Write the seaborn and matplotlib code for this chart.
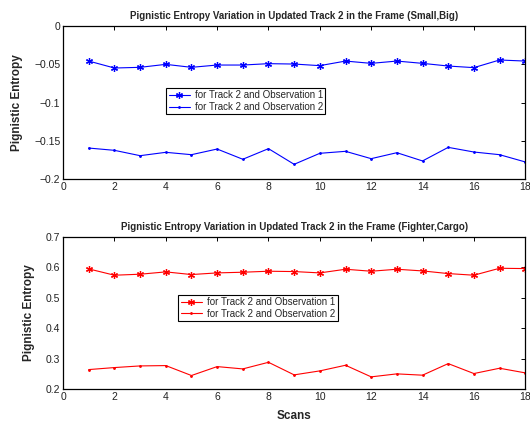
import matplotlib
matplotlib.use("Agg")
import matplotlib.pyplot as plt
import seaborn as sns
import pandas as pd

scans = list(range(1, 19))
small_big_obs1 = [-0.0457, -0.0548, -0.0539, -0.0500, -0.0539, -0.0509, -0.0509, -0.0491, -0.0496,
                  -0.0517, -0.0457, -0.0487, -0.0457, -0.0487, -0.0522, -0.0543, -0.0443, -0.0457]
small_big_obs2 = [-0.1596, -0.1626, -0.1696, -0.1652, -0.1683, -0.1609, -0.1743, -0.1604, -0.1809,
                  -0.1665, -0.1639, -0.1735, -0.1657, -0.1765, -0.1587, -0.1648, -0.1683, -0.1778]
fighter_cargo_obs1 = [0.5946, 0.5739, 0.5772, 0.5848, 0.5761, 0.5815, 0.5837, 0.5870, 0.5859,
                      0.5815, 0.5935, 0.5870, 0.5935, 0.5880, 0.5793, 0.5739, 0.5967, 0.5957]
fighter_cargo_obs2 = [0.2641, 0.2707, 0.2761, 0.2772, 0.2446, 0.2739, 0.2663, 0.2880, 0.2467,
                      0.2598, 0.2783, 0.2402, 0.2500, 0.2457, 0.2837, 0.2511, 0.2685, 0.2533]
series_labels = ["for Track 2 and Observation 1", "for Track 2 and Observation 2"]
titles = ["Pignistic Entropy Variation in Updated Track 2 in the Frame (Small,Big)",
          "Pignistic Entropy Variation in Updated Track 2 in the Frame (Fighter,Cargo)"]
top_yticks = [0, -0.05, -0.1, -0.15, -0.2]
top_yticklabels = ["0", "\u22120.05", "\u22120.1", "\u22120.15", "\u22120.2"]
bottom_yticks = [0.2, 0.3, 0.4, 0.5, 0.6, 0.7]
xticks = list(range(0, 19, 2))

sns.set_theme(style="white")
plt.rcParams["font.family"] = ["Liberation Sans", "DejaVu Sans"]

fig = plt.figure(figsize=(5.3, 4.29), dpi=100)
ax1 = fig.add_axes([0.119, 0.583, 0.872, 0.356])
ax2 = fig.add_axes([0.119, 0.093, 0.872, 0.355])

def draw(ax, s1, s2, color, title, yticks, yticklabels, ylim, leg_anchor, ylab_x):
    df1 = pd.DataFrame({"Scans": scans, "v": s1})
    df2 = pd.DataFrame({"Scans": scans, "v": s2})
    sns.lineplot(data=df1, x="Scans", y="v", ax=ax, color=color, marker=(6, 2, 0),
                 markersize=5, markeredgewidth=0.9, markeredgecolor=color, linewidth=0.8,
                 label=series_labels[0])
    sns.lineplot(data=df2, x="Scans", y="v", ax=ax, color=color, marker=".",
                 markersize=2.5, markeredgecolor=color, linewidth=0.8, label=series_labels[1])
    ax.set_xlim(0, 18)
    ax.set_ylim(*ylim)
    ax.set_xticks(xticks)
    ax.set_xticklabels([str(t) for t in xticks])
    ax.set_yticks(yticks)
    ax.set_yticklabels(yticklabels)
    ax.tick_params(direction="in", top=True, right=True, length=3, width=0.7,
                   labelsize=7.5, pad=2, color="black", labelcolor="#222222")
    for sp in ax.spines.values():
        sp.set_visible(True)
        sp.set_color("black")
        sp.set_linewidth(0.9)
    ax.set_title(title, fontsize=7, fontweight="bold", pad=5)
    ax.set_xlabel("")
    ax.set_ylabel("Pignistic Entropy", fontsize=8.5, fontweight="bold")
    ax.yaxis.set_label_coords(ylab_x, 0.5)
    leg = ax.legend(loc="upper left", bbox_to_anchor=leg_anchor, fontsize=7, frameon=True,
                    fancybox=False, edgecolor="black", framealpha=1, borderpad=0.25,
                    labelspacing=0.15, handlelength=2.2, handletextpad=0.5, borderaxespad=0)
    leg.get_frame().set_linewidth(0.8)

draw(ax1, small_big_obs1, small_big_obs2, "#0000ff", titles[0], top_yticks, top_yticklabels,
     (-0.2, 0), (0.223, 0.595), -0.087)
draw(ax2, fighter_cargo_obs1, fighter_cargo_obs2, "#ff0000", titles[1], bottom_yticks,
     [f"{v:g}" for v in bottom_yticks], (0.2, 0.7), (0.249, 0.618), -0.061)
ax2.set_xlabel("Scans", fontsize=8.5, fontweight="bold", labelpad=6)

fig.savefig("out.png", dpi=100, facecolor="white")
